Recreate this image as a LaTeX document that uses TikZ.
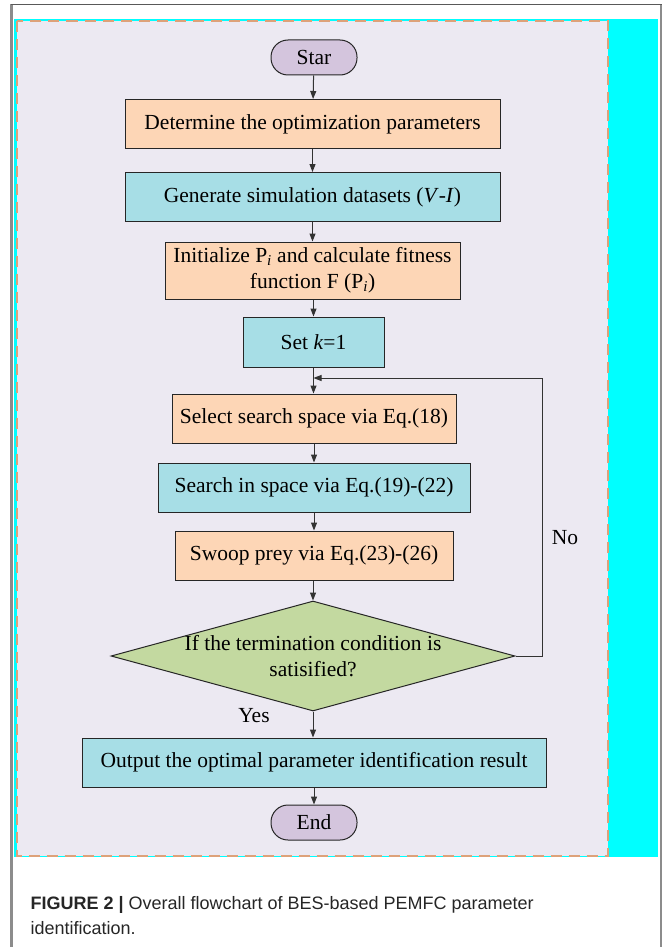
\documentclass[tikz,border=0pt]{standalone}
\usepackage{fontspec}
\setmainfont{Liberation Serif}
\newfontfamily\captionfont{Liberation Sans}
\usepackage{tikz}
\usepackage{xcolor}
\usetikzlibrary{shapes.geometric,arrows.meta}
\definecolor{page-bg}{HTML}{ECE9F2}
\definecolor{strip-cyan}{HTML}{00FFFF}
\definecolor{dash-line}{HTML}{DDA27A}
\definecolor{peach-fill}{HTML}{FDD6B6}
\definecolor{cyan-fill}{HTML}{A7DEE6}
\definecolor{green-fill}{HTML}{C3D9A0}
\definecolor{purple-fill}{HTML}{D4C5DD}
\tikzset{
    flow-box/.style = {draw=black!85, line width=1pt, rectangle, minimum height=49pt, inner sep=0pt, align=center, font=\fontsize{21.5}{26}\selectfont},
    peach-box/.style = {flow-box, fill=peach-fill},
    cyan-box/.style = {flow-box, fill=cyan-fill},
    terminal-box/.style = {flow-box, fill=purple-fill, rounded corners=17pt, minimum width=86pt, minimum height=35pt},
    decision-box/.style = {diamond, draw=black!85, line width=1pt, fill=green-fill, minimum width=404pt, minimum height=110pt, inner sep=0pt},
    flow-arrow/.style = {draw=black!80, line width=1pt, -{Triangle[length=8pt,width=6pt]}},
    side-label/.style = {font=\fontsize{21.5}{26}\selectfont},
}

\begin{document}
\begin{tikzpicture}[x=1pt,y=-1pt]
\useasboundingbox (0,0) rectangle (664,947);
\fill[white] (0,0) rectangle (664,947);
\draw[black!45, line width=2.5pt] (11.7,4.5) -- (11.7,947);
\draw[black!45, line width=2pt] (660.8,4.5) -- (660.8,947);
\draw[black!65, line width=1.5pt] (11,4.5) -- (661.5,4.5);
\fill[strip-cyan] (14,19) rectangle (658,857);
\draw[dash-line, fill=page-bg, line width=2pt, dash pattern=on 11pt off 7pt] (16.5,21.5) rectangle (608,855.5);

\node [terminal-box] (start) at (314,57.5) {Star};
\node [peach-box, minimum width=375pt] (determine) at (312.5,124) {Determine the optimization parameters};
\node [cyan-box, minimum width=375pt] (generate) at (312.5,197) {Generate simulation datasets (\textit{V}-\textit{I})};
\node [peach-box, minimum width=295pt, minimum height=57pt] (init) at (312.5,270.5) {Initialize P\textsubscript{\textit{i}} and calculate fitness\\function F (P\textsubscript{\textit{i}})};
\node [cyan-box, minimum width=141pt, minimum height=50pt] (set-k) at (313.5,342) {Set \textit{k}=1};
\node [peach-box, minimum width=284pt] (select) at (314,418.5) {Select search space via Eq.(18)};
\node [cyan-box, minimum width=312pt] (search) at (314,487.5) {Search in space via Eq.(19)-(22)};
\node [peach-box, minimum width=278pt] (swoop) at (314,555.5) {Swoop prey via Eq.(23)-(26)};
\node [decision-box, label={[side-label, align=center]center:If the termination condition is\\satisified?}] (check) at (313,656) {};
\node [cyan-box, minimum width=464pt] (output) at (314,762.5) {Output the optimal parameter identification result};
\node [terminal-box] (end) at (314,822.5) {End};

\node [side-label] (yes) at (254,716) {Yes};
\node [side-label] (no) at (565,538) {No};
\coordinate (merge) at (313.5,378);
\coordinate (loop-x) at (542,0);

\draw [flow-arrow] (start) -- (determine);
\draw [flow-arrow] (determine) -- (generate);
\draw [flow-arrow] (generate) -- (init);
\draw [flow-arrow] (init.south -| set-k) -- (set-k);
\draw [flow-arrow] (set-k) -- (select.north -| set-k);
\draw [flow-arrow] (select) -- (search);
\draw [flow-arrow] (search) -- (swoop);
\draw [flow-arrow] (swoop.south -| check) -- (check.north);
\draw [flow-arrow] (check.south) -- (output.north -| check);
\draw [flow-arrow] (output) -- (end);
\draw [flow-arrow] (check.east) -- (check.east -| loop-x) |- (merge);

\node [anchor=west, align=left, text=black!85, font=\captionfont\fontsize{18}{25}\selectfont] (caption) at (27,915.5) {\textbf{FIGURE 2} \textbf{|} Overall flowchart of BES-based PEMFC parameter\\identification.};
\end{tikzpicture}
\end{document}
